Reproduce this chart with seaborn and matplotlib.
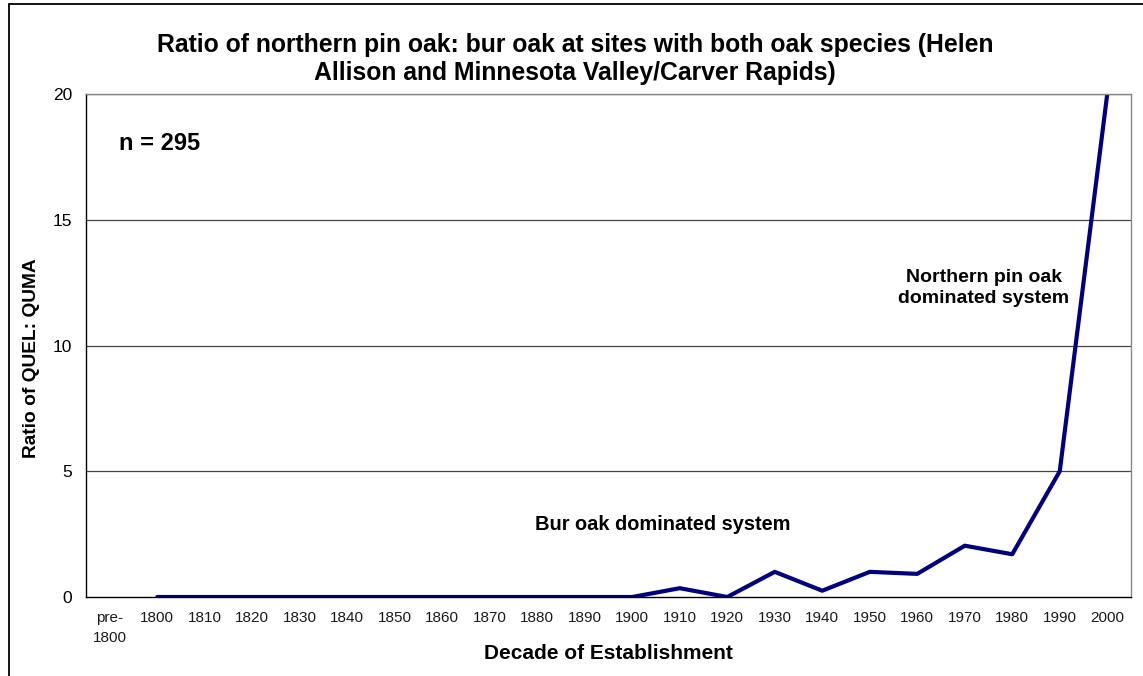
import matplotlib
matplotlib.use("Agg")
import matplotlib.pyplot as plt
from matplotlib.lines import Line2D
import numpy as np
import pandas as pd
import seaborn as sns

# Data
decades = ["pre-\n1800", "1800", "1810", "1820", "1830", "1840", "1850", "1860",
           "1870", "1880", "1890", "1900", "1910", "1920", "1930", "1940",
           "1950", "1960", "1970", "1980", "1990", "2000"]
ratio = [np.nan, 0, 0, 0, 0, 0, 0, 0, 0, 0, 0, 0, 0.35, 0, 1.0, 0.25,
         1.0, 0.92, 2.04, 1.7, 5.0, 20.0]
y_ticks = [0, 5, 10, 15, 20]

df = pd.DataFrame({"pos": np.arange(len(decades)), "ratio": ratio})

sns.set_style("white")
plt.rcParams["font.family"] = ["Liberation Sans", "DejaVu Sans"]
plt.rcParams["text.color"] = "black"
plt.rcParams["axes.labelcolor"] = "black"
plt.rcParams["xtick.color"] = "black"
plt.rcParams["ytick.color"] = "black"

W, H = 1143, 676
fig = plt.figure(figsize=(W / 100, H / 100), dpi=100)
ax = fig.add_axes([86 / W, 1 - 597 / H, (1131 - 86) / W, (597 - 94) / H])

sns.lineplot(data=df, x="pos", y="ratio", ax=ax, color="#000080", linewidth=3)

ax.set_xlim(-0.5, len(decades) - 0.5)
ax.set_ylim(0, 20)
ax.set_yticks(y_ticks)
ax.set_yticklabels([str(t) for t in y_ticks], fontsize=12.5)
ax.set_xticks(np.arange(len(decades)))
ax.set_xticklabels(decades, fontsize=11, color="#1a1a1a", linespacing=1.6)
ax.tick_params(axis="x", length=0, pad=10)
# boundary tick marks between categories
ax.set_xticks(np.arange(-0.5, len(decades)), minor=True)
ax.tick_params(axis="x", which="minor", length=5, width=1, color="black", direction="out")
ax.tick_params(axis="y", length=6, width=1, color="black", direction="out", pad=4)

for t in y_ticks[1:]:
    ax.axhline(t, color="#444444", linewidth=0.9, zorder=0)

ax.spines["left"].set_color("black")
ax.spines["bottom"].set_color("black")
ax.spines["top"].set_color("#888888")
ax.spines["right"].set_color("#888888")
for s in ax.spines.values():
    s.set_linewidth(1)

ax.set_xlabel("Decade of Establishment", fontsize=15, fontweight="bold")
ax.xaxis.set_label_coords(0.5, -(644 - 597) / (597 - 94))
ax.set_ylabel("Ratio of QUEL: QUMA", fontsize=13.8, fontweight="bold")
ax.yaxis.set_label_coords((40 - 86) / (1131 - 86), (597 - 358) / (597 - 94))

fig.text(575 / W, 1 - 59 / H,
         "Ratio of northern pin oak: bur oak at sites with both oak species (Helen\n"
         "Allison and Minnesota Valley/Carver Rapids)",
         ha="center", va="center", fontsize=17.8, fontweight="bold", linespacing=1.2)

fig.text(119 / W, 1 - 143 / H, "n = 295", ha="left", va="center",
         fontsize=17, fontweight="bold")
fig.text(663 / W, 1 - 525 / H, "Bur oak dominated system", ha="center", va="center",
         fontsize=14.4, fontweight="bold")
fig.text(984 / W, 1 - 288 / H, "Northern pin oak\ndominated system", ha="center",
         va="center", fontsize=14, fontweight="bold", linespacing=1.3)

# outer frame (left and top only)
fig.add_artist(Line2D([8.5 / W, 8.5 / W], [0, 1 - 4 / H], transform=fig.transFigure,
                      color="black", linewidth=1.3))
fig.add_artist(Line2D([8.5 / W, 1], [1 - 4 / H, 1 - 4 / H], transform=fig.transFigure,
                      color="black", linewidth=1.3))

fig.savefig("out.png", dpi=100, facecolor="white")
